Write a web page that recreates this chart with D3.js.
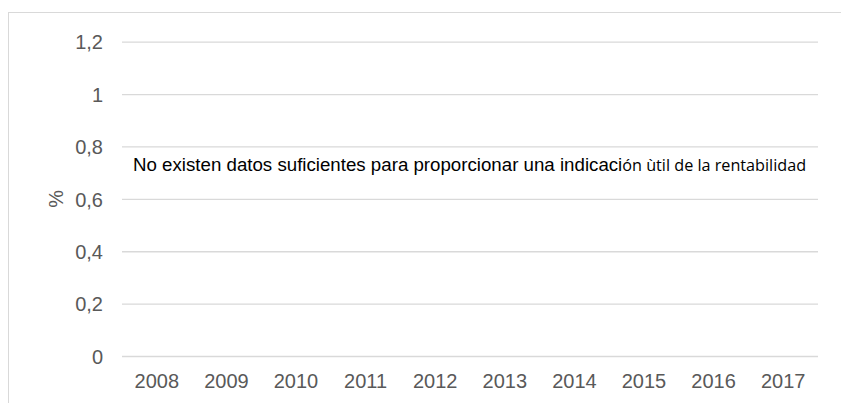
<!DOCTYPE html>
<html>
<head>
<meta charset="utf-8">
<script src="https://cdn.jsdelivr.net/npm/d3@7"></script>
<style>
  html, body { margin: 0; padding: 0; background: #fff; }
  svg { display: block; }
</style>
</head>
<body>
<div id="chart"></div>
<script>
// Chart data (no values available for the series)
const years = ['2008', '2009', '2010', '2011', '2012', '2013', '2014', '2015', '2016', '2017'];
const yTicks = [0, 0.2, 0.4, 0.6, 0.8, 1, 1.2];
const returns = []; // no data
const yLabel = '%';
const message = 'No existen datos suficientes para proporcionar una indicaci';
const messageTail = 'ón ùtil de la rentabilidad';

const width = 841, height = 403;
const margin = { top: 41.7, right: 23, bottom: 47, left: 122 };
const innerW = width - margin.left - margin.right;
const innerH = height - margin.top - margin.bottom;

const svg = d3.select('#chart').append('svg')
    .attr('width', width)
    .attr('height', height);

// outer chart frame
svg.append('rect')
    .attr('x', 8.5).attr('y', 12.5)
    .attr('width', 900).attr('height', 500)
    .attr('fill', 'none')
    .attr('stroke', '#d9d9d9');

const g = svg.append('g').attr('transform', `translate(${margin.left},${margin.top})`);

const x = d3.scaleBand().domain(years).range([0, innerW]);
const y = d3.scaleLinear().domain([0, 1.2]).range([innerH, 0]);

const fmt = d => String(d).replace('.', ',');

// Y axis with gridlines
g.append('g')
    .attr('class', 'y-axis')
    .call(d3.axisLeft(y).tickValues(yTicks).tickSize(-innerW).tickPadding(19).tickFormat(fmt))
    .call(g => g.select('.domain').remove())
    .call(g => g.selectAll('.tick line').attr('stroke', '#d9d9d9').attr('stroke-width', 1.3))
    .call(g => g.selectAll('.tick text')
        .attr('fill', '#595959')
        .attr('dy', '0.36em')
        .style('font-family', '"Liberation Sans", Arial, sans-serif')
        .style('font-size', '20px'));

// X axis labels
g.append('g')
    .attr('class', 'x-axis')
    .attr('transform', `translate(0,${innerH})`)
    .call(d3.axisBottom(x).tickSize(0).tickPadding(18))
    .call(g => g.select('.domain').remove())
    .call(g => g.selectAll('.tick text')
        .attr('fill', '#595959')
        .style('font-family', '"Liberation Sans", Arial, sans-serif')
        .style('font-size', '20px'));

// Y axis title
svg.append('text')
    .attr('transform', `translate(63,${margin.top + y(0.6)}) rotate(-90)`)
    .attr('text-anchor', 'middle')
    .attr('fill', '#595959')
    .style('font-family', '"Liberation Sans", Arial, sans-serif')
    .style('font-size', '20px')
    .text(yLabel);

// No-data message
const msg = svg.append('text')
    .attr('x', 133)
    .attr('y', 171)
    .attr('fill', '#000')
    .style('font-family', '"Liberation Sans", Arial, sans-serif')
    .style('font-size', '18.7px')
    .text(message);
msg.append('tspan')
    .style('font-family', '"Open Sans", sans-serif')
    .style('font-size', '16.2px')
    .text(messageTail);
</script>
</body>
</html>
